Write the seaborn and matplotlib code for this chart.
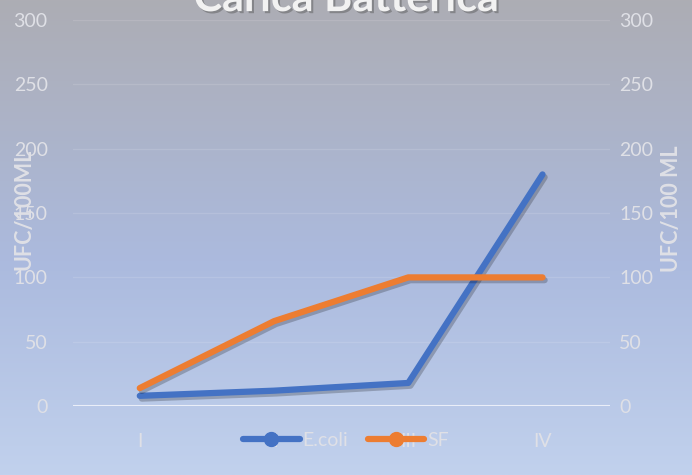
import matplotlib
matplotlib.use("Agg")
import matplotlib.pyplot as plt
import matplotlib.patheffects as pe
import numpy as np
import pandas as pd
import seaborn as sns

# data
categories = ["I", "II", "III", "IV"]
ecoli = [8, 12, 18, 180]
sf = [14, 66, 100, 100]
series_names = ["E.coli", "SF"]
y_ticks = [0, 50, 100, 150, 200, 250, 300]

df = pd.DataFrame({
    "fase": categories * 2,
    "valore": ecoli + sf,
    "serie": [series_names[0]] * 4 + [series_names[1]] * 4,
})

sns.set_style("white")
plt.rcParams["font.family"] = ["Lato", "DejaVu Sans"]
txt = "#dfe0e6"

fig = plt.figure(figsize=(6.92, 4.75), dpi=100)

# gradient background
bg = fig.add_axes([0, 0, 1, 1], zorder=0)
stops = np.array([[173, 173, 180], [171, 186, 222], [193, 209, 237]]) / 255
t = np.linspace(0, 1, 300)
grad = np.stack([np.interp(t, [0, 0.55, 1], stops[:, c]) for c in range(3)], axis=1)
bg.imshow(grad[:, None, :], aspect="auto", extent=[0, 1, 0, 1])
bg.axis("off")

ax = fig.add_axes([0.105, 0.145, 0.776, 0.813], zorder=1)
ax.patch.set_alpha(0)
pal = {"E.coli": "#4472c4", "SF": "#ed7d31"}
sns.lineplot(data=df, x="fase", y="valore", hue="serie", palette=pal,
             linewidth=4.5, ax=ax, legend=False, sort=False)
for ln in ax.lines:
    ln.set_path_effects([pe.SimpleLineShadow(offset=(1.5, -2), alpha=0.22), pe.Normal()])
    ln.set_solid_capstyle("round")
    ln.set_solid_joinstyle("round")

ax.set_xlim(-0.5, 3.5)
ax.set_ylim(0, 300)
ax.set_yticks(y_ticks)
for y in y_ticks[1:]:
    ax.axhline(y, color="white", alpha=0.12, lw=1, zorder=0)
ax.axhline(0, color="white", alpha=0.7, lw=1.5, zorder=0)
for s in ax.spines.values():
    s.set_visible(False)
ax.tick_params(length=0, labelsize=14, colors=txt, pad=18)
ax.tick_params(axis="x", pad=19)
ax.set_xlabel("")
ax.set_ylabel("")

ax2 = ax.twinx()
ax2.set_ylim(0, 300)
ax2.set_yticks(y_ticks)
for s in ax2.spines.values():
    s.set_visible(False)
ax2.tick_params(length=0, labelsize=14, colors=txt, pad=7)

fig.text(0.034, 0.56, "UFC/100ML", rotation=90, ha="center", va="center",
         fontsize=15.5, fontweight="bold", color=txt)
fig.text(0.970, 0.56, "UFC/100 ML", rotation=90, ha="center", va="center",
         fontsize=15.5, fontweight="bold", color=txt)

fig.text(0.5, 1.004, "Carica Batterica", ha="center", va="center",
         fontsize=31, fontweight="bold", color="#f2f2f2",
         path_effects=[pe.withSimplePatchShadow(offset=(1.5, -1.5), alpha=0.4)])

handles = [plt.Line2D([], [], color=pal[n], lw=4.5, marker="o", markersize=10,
                      solid_capstyle="round") for n in series_names]
leg = fig.legend(handles, series_names, loc="center", bbox_to_anchor=(0.5, 0.073),
                 ncol=2, frameon=False, fontsize=14, labelcolor=txt,
                 handlelength=2.9, handletextpad=0.15, columnspacing=1.0)

fig.savefig("out.png", dpi=100)
